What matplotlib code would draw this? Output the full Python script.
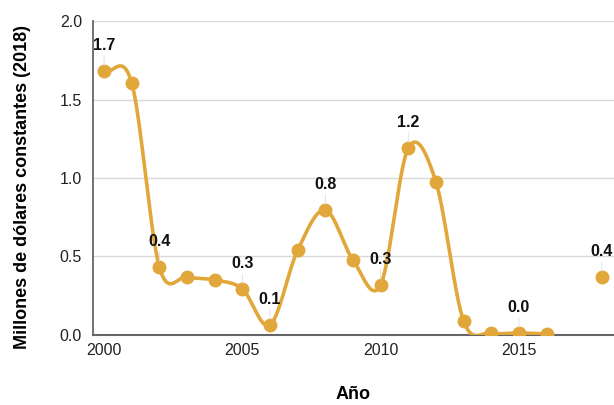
import numpy as np
import matplotlib
matplotlib.use('Agg')
import matplotlib.pyplot as plt

# data (2017 is missing)
years = [2000, 2001, 2002, 2003, 2004, 2005, 2006, 2007, 2008,
         2009, 2010, 2011, 2012, 2013, 2014, 2015, 2016, 2018]
values = [1.68, 1.605, 0.433, 0.37, 0.35, 0.293, 0.064, 0.54, 0.796,
          0.478, 0.318, 1.19, 0.975, 0.09, 0.013, 0.013, 0.006, 0.37]
label_years = [2000, 2002, 2005, 2006, 2008, 2010, 2011, 2015, 2018]

color = '#E1A73A'
plt.rcParams['font.family'] = ['Liberation Sans', 'DejaVu Sans']


#catmull-rom style curve through the points of one segment
def smooth(xs, ys, n=30):
    xs = np.asarray(xs, float)
    ys = np.asarray(ys, float)
    if len(xs) < 3:
        return xs, ys
    m = np.zeros(len(xs))
    m[1:-1] = (ys[2:] - ys[:-2]) / (xs[2:] - xs[:-2])
    m[0] = (ys[1] - ys[0]) / (xs[1] - xs[0])
    m[-1] = (ys[-1] - ys[-2]) / (xs[-1] - xs[-2])
    outx, outy = [], []
    for i in range(len(xs) - 1):
        h = xs[i+1] - xs[i]
        t = np.linspace(0, 1, n)
        h00 = 2*t**3 - 3*t**2 + 1
        h10 = t**3 - 2*t**2 + t
        h01 = -2*t**3 + 3*t**2
        h11 = t**3 - t**2
        outx.extend(xs[i] + t*h)
        outy.extend(h00*ys[i] + h10*h*m[i] + h01*ys[i+1] + h11*h*m[i+1])
    return np.array(outx), np.array(outy)


fig = plt.figure(figsize=(6.14, 4.05), dpi=100)
ax = fig.add_axes([0.1515, 0.173, 0.848, 0.775])

#split into runs of consecutive years so the gap at 2017 stays open
runs, cur = [], [0]
for i in range(1, len(years)):
    if years[i] - years[i-1] == 1:
        cur.append(i)
    else:
        runs.append(cur)
        cur = [i]
runs.append(cur)

for r in runs:
    sx, sy = smooth([years[i] for i in r], [values[i] for i in r])
    ax.plot(sx, sy, color=color, lw=2.6, solid_capstyle='round', zorder=3)

ax.plot(years, values, 'o', color=color, ms=9, zorder=4)

for yr in label_years:
    v = values[years.index(yr)]
    ax.annotate('%.1f' % v, xy=(yr, v), xytext=(0, 13),
                textcoords='offset points', ha='center', va='bottom',
                fontsize=11.5, fontweight='bold', color='#111111',
                arrowprops=dict(arrowstyle='-', color='#dddddd', lw=0.6,
                                shrinkA=0, shrinkB=4), zorder=5)

ax.set_xlim(1999.6, 2018.43)
ax.set_ylim(0, 2.0)
ax.set_xticks([2000, 2005, 2010, 2015])
ax.set_yticks([0.0, 0.5, 1.0, 1.5, 2.0])
ax.set_yticklabels(['0.0', '0.5', '1.0', '1.5', '2.0'])
ax.tick_params(length=0, labelsize=11.5, colors='#222222', pad=6)
ax.tick_params(axis='y', pad=8)

ax.grid(axis='y', color='#d9d9d9', lw=1)
ax.set_axisbelow(True)
for s in ['top', 'right']:
    ax.spines[s].set_visible(False)
ax.spines['left'].set_color('#666666')
ax.spines['bottom'].set_color('#666666')
ax.spines['left'].set_linewidth(1.3)
ax.spines['bottom'].set_linewidth(1.5)

ax.set_xlabel('Año', fontsize=13, fontweight='bold', labelpad=20)
ax.set_ylabel('Millones de dólares constantes (2018)', fontsize=13,
              fontweight='bold')
ax.yaxis.set_label_coords(-0.12, 0.47)

fig.savefig('out.png', dpi=100)
